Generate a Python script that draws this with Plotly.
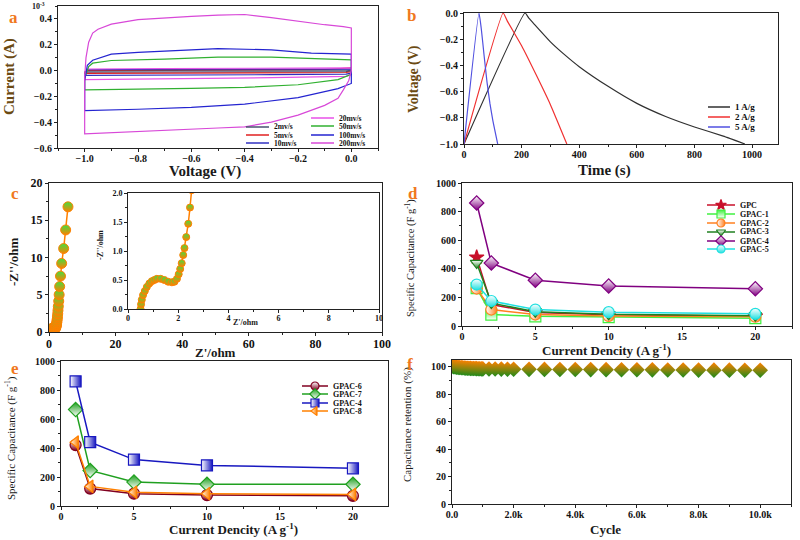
import plotly.graph_objects as go

W, H = 800, 540
SERIF = "Liberation Serif, Times New Roman, serif"

# ---------------- DATA ----------------
# (a) CV curves, current in 1e-3 A
cv_labels = ["2mv/s", "5mv/s", "10mv/s", "20mv/s", "50mv/s", "100mv/s", "200mv/s"]
cv_colors = ["#4a5070", "#e02020", "#3030c0", "#e850e8", "#30b030", "#2424d0", "#d848d8"]
cv_v = {
    "2mv/s":   [-1.0, -0.99, -0.7, -0.4, -0.1, 0.0, 0.0, -0.02, -0.3, -0.6, -0.9, -1.0, -1.0],
    "5mv/s":   [-1.0, -0.99, -0.7, -0.4, -0.1, 0.0, 0.0, -0.02, -0.3, -0.6, -0.9, -1.0, -1.0],
    "10mv/s":  [-1.0, -0.99, -0.7, -0.4, -0.1, 0.0, 0.0, -0.02, -0.3, -0.6, -0.9, -1.0, -1.0],
    "20mv/s":  [-1.0, -0.99, -0.7, -0.4, -0.1, 0.0, 0.0, -0.02, -0.3, -0.6, -0.9, -1.0, -1.0],
    "50mv/s":  [-1.0, -0.985, -0.97, -0.9, -0.7, -0.5, -0.3, -0.1, 0.0, 0.0, -0.05, -0.2, -0.4, -0.6, -0.8, -1.0, -1.0],
    "100mv/s": [-1.0, -0.99, -0.97, -0.9, -0.8, -0.5, -0.3, -0.15, 0.0, 0.0, -0.05, -0.2, -0.4, -0.6, -0.8, -1.0, -1.0],
    "200mv/s": [-1.0, -0.995, -0.985, -0.97, -0.95, -0.9, -0.8, -0.7, -0.6, -0.5, -0.4, -0.3, -0.2, -0.1,
                -0.03, 0.0, 0.0, -0.01, -0.03, -0.05, -0.1, -0.15, -0.2, -0.3, -0.4, -0.5, -0.6, -0.7,
                -0.8, -0.9, -1.0, -1.0],
}
cv_i = {
    "2mv/s":   [-0.01, 0.0, 0.002, 0.003, 0.003, 0.004, -0.004, -0.008, -0.01, -0.011, -0.012, -0.012, -0.01],
    "5mv/s":   [-0.02, 0.003, 0.006, 0.007, 0.008, 0.02, -0.01, -0.015, -0.018, -0.02, -0.021, -0.022, -0.02],
    "10mv/s":  [-0.03, 0.006, 0.01, 0.012, 0.012, 0.012, -0.02, -0.028, -0.032, -0.034, -0.036, -0.037, -0.03],
    "20mv/s":  [-0.05, 0.012, 0.016, 0.02, 0.02, 0.02, -0.03, -0.045, -0.055, -0.06, -0.065, -0.07, -0.05],
    "50mv/s":  [-0.06, 0.03, 0.057, 0.078, 0.088, 0.104, 0.104, 0.088, 0.083, -0.03, -0.07, -0.11, -0.13, -0.138, -0.145, -0.15, -0.06],
    "100mv/s": [-0.08, 0.04, 0.08, 0.127, 0.14, 0.17, 0.16, 0.135, 0.127, -0.1, -0.14, -0.21, -0.26, -0.285, -0.3, -0.31, -0.08],
    "200mv/s": [-0.05, 0.1, 0.22, 0.29, 0.32, 0.36, 0.395, 0.41, 0.42, 0.43, 0.434, 0.41, 0.38, 0.355,
                0.34, 0.33, 0.0, -0.08, -0.15, -0.215, -0.27, -0.31, -0.345, -0.4, -0.436, -0.445,
                -0.455, -0.462, -0.47, -0.48, -0.49, -0.05],
}

# (b) galvanostatic charge/discharge
gcd_labels = ["1 A/g", "2 A/g", "5 A/g"]
gcd_colors = ["#303030", "#f03030", "#5050e0"]
gcd_t = {
    "1 A/g": [0, 212, 225, 250, 300, 350, 400, 500, 600, 700, 800, 900, 975],
    "2 A/g": [0, 136, 150, 200, 250, 300, 357],
    "5 A/g": [0, 52, 60, 70, 80, 90, 100, 117],
}
gcd_v = {
    "1 A/g": [-1.0, 0.0, -0.04, -0.10, -0.22, -0.32, -0.41, -0.56, -0.69, -0.79, -0.87, -0.94, -1.0],
    "2 A/g": [-1.0, 0.0, -0.06, -0.25, -0.47, -0.70, -1.0],
    "5 A/g": [-1.0, 0.0, -0.12, -0.33, -0.53, -0.69, -0.82, -1.0],
}

# (c) Nyquist
z_re = [0.5, 0.52, 0.55, 0.6, 0.67, 0.75, 0.85, 0.95, 1.05, 1.15, 1.3, 1.45, 1.6, 1.75, 1.85, 1.95,
        2.02, 2.08, 2.14, 2.2, 2.25, 2.32, 2.4, 2.47, 2.54, 2.62, 2.7, 2.8, 2.92, 3.05, 3.2, 3.45,
        3.8, 4.4, 5.0, 5.7]
z_im = [0.0, 0.08, 0.16, 0.24, 0.31, 0.38, 0.44, 0.48, 0.5, 0.52, 0.52, 0.5, 0.47, 0.46, 0.47, 0.52,
        0.6, 0.69, 0.79, 0.93, 1.05, 1.24, 1.47, 1.75, 2.05, 2.45, 2.9, 3.45, 4.15, 5.0, 6.1, 7.5,
        9.2, 11.2, 13.7, 16.8]

# (d) specific capacitance vs current density
cd = [1, 2, 5, 10, 20]
d_labels = ["GPC", "GPAC-1", "GPAC-2", "GPAC-3", "GPAC-4", "GPAC-5"]
d_vals = {
    "GPC":    [480, 150, 95, 78, 68],
    "GPAC-1": [265, 80, 68, 62, 55],
    "GPAC-2": [262, 115, 80, 70, 65],
    "GPAC-3": [440, 160, 100, 82, 72],
    "GPAC-4": [860, 440, 320, 280, 260],
    "GPAC-5": [290, 175, 115, 97, 85],
}
# (e)
e_labels = ["GPAC-6", "GPAC-7", "GPAC-4", "GPAC-8"]
e_vals = {
    "GPAC-6": [420, 120, 85, 75, 70],
    "GPAC-7": [665, 245, 165, 150, 150],
    "GPAC-4": [860, 440, 320, 280, 260],
    "GPAC-8": [440, 135, 95, 85, 80],
}
# (f) cycling stability
cycles = [0, 50, 100, 150, 200, 250, 300, 350, 400, 450, 500, 550, 600, 650, 700, 750, 800, 850,
          900, 950, 1000, 1200, 1400, 1600, 1800, 2000, 2500, 3000, 3500, 4000, 4500, 5000, 5500,
          6000, 6500, 7000, 7500, 8000, 8500, 9000, 9500, 10000]
retention = [100.4, 100.2, 100.0, 99.8, 99.6, 99.5, 99.4, 99.3, 99.2, 99.1, 99.0, 98.95, 98.9,
             98.85, 98.8, 98.75, 98.7, 98.65, 98.6, 98.55, 98.5, 98.45, 98.4, 98.35, 98.3, 98.25,
             98.2, 98.15, 98.1, 98.05, 98.0, 97.95, 97.9, 97.85, 97.8, 97.75, 97.7, 97.65, 97.6,
             97.6, 97.55, 97.5]
f_ticks = [0, 2000, 4000, 6000, 8000, 10000]
f_ticktext = ["0.0", "2.0k", "4.0k", "6.0k", "8.0k", "10.0k"]

# ---------------- STYLES ----------------
d_style = {
    "GPC":    dict(color="#c8102a", symbol="star", g=None, gc=None),
    "GPAC-1": dict(color="#40f040", symbol="square", g="vertical", gc="#ffffff"),
    "GPAC-2": dict(color="#ff8020", symbol="circle", g="horizontal", gc="#ff8020", first="#ffffff"),
    "GPAC-3": dict(color="#208020", symbol="triangle-down", g="vertical", gc="#208020", first="#ffffff"),
    "GPAC-4": dict(color="#800080", symbol="diamond", g="vertical", gc="#800080", first="#ffffff"),
    "GPAC-5": dict(color="#20e0e0", symbol="circle", g="vertical", gc="#20e0e0", first="#ffffff"),
}
e_style = {
    "GPAC-6": dict(color="#800020", symbol="circle", g="vertical", gc="#800020", first="#ffffff"),
    "GPAC-7": dict(color="#20a020", symbol="diamond", g="vertical", gc="#ffffff", first="#20a020"),
    "GPAC-4": dict(color="#1818c0", symbol="square", g="horizontal", gc="#1818c0", first="#ffffff"),
    "GPAC-8": dict(color="#ff8000", symbol="triangle-left", g="horizontal", gc="#ff8000", first="#ffffff"),
}


def px(x):
    return x / W


def py(y):
    return 1 - y / H


def marker_of(st, size=10):
    m = dict(symbol=st["symbol"], size=size, line=dict(color=st["color"], width=1.2))
    if st["g"] is None:
        m["color"] = st["color"]
    else:
        m["color"] = st.get("first", st["color"])
        m["gradient"] = dict(type=st["g"], color=st["gc"])
    return m


fig = go.Figure()

# (a)
for lab, col in zip(cv_labels, cv_colors):
    fig.add_trace(go.Scatter(x=cv_v[lab], y=cv_i[lab], mode="lines", line=dict(color=col, width=1.2),
                             xaxis="x", yaxis="y", showlegend=False))
# (b)
for lab, col in zip(gcd_labels, gcd_colors):
    fig.add_trace(go.Scatter(x=gcd_t[lab], y=gcd_v[lab], mode="lines",
                             line=dict(color=col, width=1.2, shape="spline", smoothing=0.4),
                             xaxis="x2", yaxis="y2", showlegend=False))
# (c) main and inset
nyq_marker = dict(symbol="circle", size=10, color="#40e040", gradient=dict(type="vertical", color="#ff8000"),
                  line=dict(color="#ff8000", width=1))
fig.add_trace(go.Scatter(x=z_re, y=z_im, mode="lines+markers", line=dict(color="#ff8000", width=1.5),
                         marker=nyq_marker, xaxis="x3", yaxis="y3", showlegend=False))
fig.add_trace(go.Scatter(x=z_re, y=z_im, mode="lines+markers", line=dict(color="#ff8000", width=1.5),
                         marker=dict(nyq_marker, size=7), xaxis="x4", yaxis="y4", showlegend=False))
# (d)
for lab in d_labels:
    st = d_style[lab]
    fig.add_trace(go.Scatter(x=cd, y=d_vals[lab], mode="lines+markers", line=dict(color=st["color"], width=1.5),
                             marker=marker_of(st, 11), xaxis="x5", yaxis="y5", showlegend=False))
# (e)
for lab in e_labels:
    st = e_style[lab]
    fig.add_trace(go.Scatter(x=cd, y=e_vals[lab], mode="lines+markers", line=dict(color=st["color"], width=1.5),
                             marker=marker_of(st, 11), xaxis="x6", yaxis="y6", showlegend=False))
# (f)
fig.add_trace(go.Scatter(x=cycles, y=retention, mode="markers",
                         marker=dict(symbol="diamond", size=12, color="#ff8000",
                                     gradient=dict(type="vertical", color="#1a8a1a"), line=dict(width=0)),
                         xaxis="x7", yaxis="y7", showlegend=False))

# ---------------- legends (drawn on a pixel overlay) ----------------
annotations = []


def key(x0, x1, y, color, text, st=None, msize=9, fsize=9):
    fig.add_trace(go.Scatter(x=[x0, x1], y=[y, y], mode="lines", line=dict(color=color, width=1.5),
                             xaxis="x8", yaxis="y8", showlegend=False, hoverinfo="skip"))
    if st is not None:
        fig.add_trace(go.Scatter(x=[(x0 + x1) / 2], y=[y], mode="markers", marker=marker_of(st, msize),
                                 xaxis="x8", yaxis="y8", showlegend=False, hoverinfo="skip"))
    annotations.append(dict(x=px(x1 + 3), y=py(y), xref="paper", yref="paper", text=text, showarrow=False,
                            xanchor="left", yanchor="middle",
                            font=dict(family=SERIF, size=fsize, color="#111", weight="bold")))


a_left = [("2mv/s", 127), ("5mv/s", 135), ("10mv/s", 143)]
a_right = [("20mv/s", 118), ("50mv/s", 126), ("100mv/s", 135), ("200mv/s", 143)]
for lab, y in a_left:
    key(246, 269, y, cv_colors[cv_labels.index(lab)], lab, fsize=7.5)
for lab, y in a_right:
    key(311, 334, y, cv_colors[cv_labels.index(lab)], lab, fsize=7.5)
for lab, y in zip(gcd_labels, [107, 117, 127]):
    key(708, 730, y, gcd_colors[gcd_labels.index(lab)], lab, fsize=9)
for lab, y in zip(d_labels, [205, 214, 223, 232, 241, 249]):
    key(707, 735, y, d_style[lab]["color"], lab, st=d_style[lab], msize=8, fsize=8)
for lab, y in zip(e_labels, [386, 394, 403, 411]):
    key(302, 328, y, e_style[lab]["color"], lab, st=e_style[lab], msize=8, fsize=8)


# ---------------- axes ----------------
def ax(dom, rng, tsize=10, **kw):
    d = dict(domain=dom, range=rng, showline=True, linecolor="#222", linewidth=1, mirror=True,
             ticks="outside", ticklen=3, tickcolor="#222", showgrid=False, zeroline=False,
             automargin=False,
             tickfont=dict(family=SERIF, size=tsize, color="#111", weight="bold"))
    d.update(kw)
    return d


def xax(dom, rng, tsize=10, **kw):
    return ax(dom, rng, tsize, ticklabelstandoff=-2, **kw)


def minor(dt):
    return dict(ticks="outside", ticklen=2, dtick=dt, tickcolor="#222")


layout = dict(
    width=W, height=H, margin=dict(l=0, r=0, t=0, b=0, autoexpand=False), paper_bgcolor="white",
    plot_bgcolor="rgba(0,0,0,0)", template="none",
    font=dict(family=SERIF, color="#111"),
    xaxis=xax([px(58), px(378)], [-1.1, 0.1], anchor="y", dtick=0.2, tick0=0, tickformat=".1f", minor=minor(0.1)),
    yaxis=ax([py(148), py(6)], [-0.6, 0.5], anchor="x", dtick=0.2, tick0=0, tickformat=".1f", minor=minor(0.1)),
    xaxis2=xax([px(464), px(778)], [0, 1090], anchor="y2", dtick=200, minor=minor(100)),
    yaxis2=ax([py(144), py(13)], [-1.0, 0.0], anchor="x2", dtick=0.2, tickformat=".1f", minor=minor(0.1)),
    xaxis3=xax([px(49), px(382)], [0, 100], 12, anchor="y3", dtick=20, minor=minor(10)),
    yaxis3=ax([py(332), py(183)], [0, 20], 12, anchor="x3", dtick=5, minor=minor(2.5)),
    xaxis4=xax([px(128), px(379)], [0, 10], 8, anchor="y4", dtick=2, minor=minor(1)),
    yaxis4=ax([py(309), py(193)], [0, 2], 8, anchor="x4", dtick=0.5, tickformat=".1f", minor=minor(0.25)),
    xaxis5=xax([px(462), px(792)], [0, 22.5], anchor="y5", dtick=5, minor=minor(2.5)),
    yaxis5=ax([py(326), py(183)], [0, 1000], anchor="x5", dtick=200, minor=minor(100)),
    xaxis6=xax([px(61), px(388)], [0, 22.4], anchor="y6", dtick=5, minor=minor(2.5)),
    yaxis6=ax([py(506), py(361)], [0, 1000], anchor="x6", dtick=200, minor=minor(100)),
    xaxis7=xax([px(452), px(791)], [0, 11000], anchor="y7", tickvals=f_ticks, ticktext=f_ticktext, minor=minor(1000)),
    yaxis7=ax([py(504), py(360)], [0, 105], anchor="x7", dtick=20, minor=minor(10)),
    xaxis8=dict(domain=[0, 1], range=[0, W], visible=False, anchor="y8", fixedrange=True, automargin=False),
    yaxis8=dict(domain=[0, 1], range=[H, 0], visible=False, anchor="x8", fixedrange=True, automargin=False),
)


def title(x, y, text, size=14, angle=0, color="#1a1a1a", weight="bold"):
    annotations.append(dict(x=px(x), y=py(y), xref="paper", yref="paper", text=text, showarrow=False,
                            textangle=angle, xanchor="center", yanchor="middle",
                            font=dict(family=SERIF, size=size, color=color, weight=weight)))


title(205, 171, "Voltage (V)", 15)
title(9, 77, "Current (A)", 15, -90, "#6b4a12")
title(38, 6, "10<sup>-3</sup>", 8)
title(604, 170, "Time (s)", 15)
title(414, 79, "Voltage (V)", 14, -90, "#6b4a12")
title(215, 352, "Z'/ohm", 13)
title(13, 262, "-Z''/ohm", 13, -90)
title(245, 322, "Z'/ohm", 8)
title(100, 245, "-Z''/ohm", 8, -90)
title(606, 350, "Current Dencity (A g<sup>-1</sup>)", 13)
title(410, 258, "Specific Capacitance (F g<sup>-1</sup>)", 10.5, -90, weight="normal")
title(233, 529, "Current Dencity (A g<sup>-1</sup>)", 13)
title(10, 438, "Specific Capacitance (F g<sup>-1</sup>)", 11, -90, weight="normal")
title(605, 529, "Cycle", 13)
title(407, 425, "Capacitance retention (%)", 11, -90, weight="normal")

for lab, (x, y) in zip("abcdef", [(13, 18), (411, 15), (15, 193), (413, 193), (15, 368), (410, 364)]):
    title(x, y, lab, 17, 0, "#f07820")

layout["annotations"] = annotations
fig.update_layout(**layout)
fig.write_html("out.html", config={"displayModeBar": False},
               post_script="document.body.style.margin='0';document.body.style.padding='0';")
